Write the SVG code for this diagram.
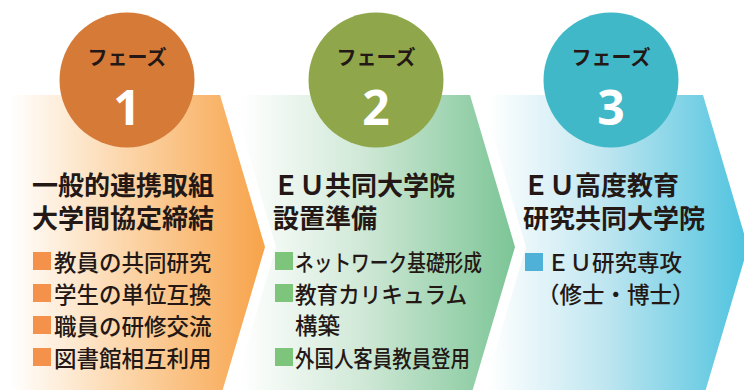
<svg xmlns="http://www.w3.org/2000/svg" width="744" height="390" viewBox="0 0 744 390">
<defs>
<linearGradient id="g1" gradientUnits="userSpaceOnUse" x1="10" y1="0" x2="265" y2="0">
<stop offset="0" stop-color="#ffffff"/><stop offset="0.45" stop-color="#fcd6aa"/><stop offset="1" stop-color="#f7a34a"/>
</linearGradient>
<linearGradient id="g2" gradientUnits="userSpaceOnUse" x1="240" y1="0" x2="515" y2="0">
<stop offset="0" stop-color="#ffffff"/><stop offset="0.45" stop-color="#cfe8d6"/><stop offset="1" stop-color="#7cc596"/>
</linearGradient>
<linearGradient id="g3" gradientUnits="userSpaceOnUse" x1="488" y1="0" x2="748" y2="0">
<stop offset="0" stop-color="#ffffff"/><stop offset="0.45" stop-color="#bfe6f0"/><stop offset="1" stop-color="#4ec3df"/>
</linearGradient>
<style>
text{font-family:"Noto Sans CJK JP","Noto Sans CJK SC",sans-serif;fill:#231815}
.ph{font-size:20px;font-weight:700;text-anchor:middle}
.num{font-size:48px;font-weight:700;fill:#ffffff;text-anchor:middle;font-family:"Noto Sans","Open Sans",sans-serif}
.ti{font-size:26px;font-weight:700}
.bu{font-size:22.5px;font-weight:500}
</style>
</defs>
<g id="connectors"></g>
<g id="phase1">
<polygon points="10,95 220,95 265,247 220,399 10,399" fill="url(#g1)"/>
<circle cx="127" cy="80" r="67.5" fill="#d67a38"/>
<text class="ph" x="127" y="65">フェーズ</text>
<text class="num" x="127" y="125">1</text>
<text class="ti" x="32" y="195">一般的連携取組</text>
<text class="ti" x="32" y="228">大学間協定締結</text>
<g fill="#f4914a">
<rect x="33" y="252" width="18" height="18"/>
<rect x="33" y="284" width="18" height="18"/>
<rect x="33" y="316" width="18" height="18"/>
<rect x="33" y="348" width="18" height="18"/>
</g>
<text class="bu" x="54" y="271">教員の共同研究</text>
<text class="bu" x="54" y="303">学生の単位互換</text>
<text class="bu" x="54" y="335">職員の研修交流</text>
<text class="bu" x="54" y="367">図書館相互利用</text>
</g>
<g id="phase2">
<polygon points="231,95 470,95 515,247 470,399 231,399 276,247" fill="url(#g2)"/>
<circle cx="376" cy="80" r="67.5" fill="#8fa74a"/>
<text class="ph" x="376" y="65">フェーズ</text>
<text class="num" x="376" y="125">2</text>
<text class="ti" x="273" y="195">ＥＵ共同大学院</text>
<text class="ti" x="273" y="228">設置準備</text>
<g fill="#7cc57a">
<rect x="275" y="252" width="18" height="18"/>
<rect x="275" y="284" width="18" height="18"/>
<rect x="275" y="348" width="18" height="18"/>
</g>
<text class="bu" x="295" y="271" textLength="187" lengthAdjust="spacingAndGlyphs">ネットワーク基礎形成</text>
<text class="bu" x="295" y="303" textLength="172" lengthAdjust="spacingAndGlyphs">教育カリキュラム</text>
<text class="bu" x="295" y="334">構築</text>
<text class="bu" x="295" y="367" textLength="175" lengthAdjust="spacingAndGlyphs">外国人客員教員登用</text>
</g>
<g id="phase3">
<polygon points="481,95 703,95 748,247 703,399 481,399 526,247" fill="url(#g3)"/>
<circle cx="611" cy="80" r="67.5" fill="#41b8c8"/>
<text class="ph" x="611" y="65">フェーズ</text>
<text class="num" x="611" y="125">3</text>
<text class="ti" x="523" y="195">ＥＵ高度教育</text>
<text class="ti" x="523" y="228">研究共同大学院</text>
<rect x="525" y="253" width="18" height="18" fill="#4fb0d8"/>
<text class="bu" x="547" y="271">ＥＵ研究専攻</text>
<text class="bu" x="537" y="303">（修士・博士）</text>
</g>
</svg>
